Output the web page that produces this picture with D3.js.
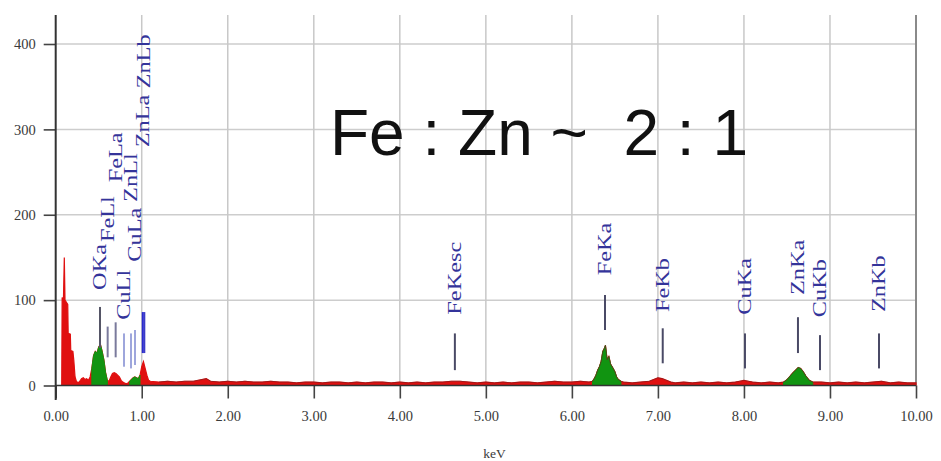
<!DOCTYPE html>
<html><head><meta charset="utf-8">
<script src="https://cdn.jsdelivr.net/npm/d3@7/dist/d3.min.js"></script>
<style>body{margin:0;background:#fff}</style>
</head><body>
<svg id="c" width="941" height="461"></svg>
<script>
// ---------- data ----------
const xTicks = [0,1,2,3,4,5,6,7,8,9,10];
const xTickLabels = ["0.00","1.00","2.00","3.00","4.00","5.00","6.00","7.00","8.00","9.00","10.00"];
const yTicks = [0,100,200,300,400];
const yTickLabels = ["0","100","200","300","400"];
const xTitle = "keV";
const annotation = "Fe : Zn ~  2 : 1";

// spectrum [keV, counts]
const spectrum = [
 [0.070,0],[0.075,103],[0.09,100],[0.100,150],[0.108,100],[0.14,95],[0.145,61],[0.17,60],[0.175,41],[0.20,40],[0.21,30],[0.225,10],[0.24,5],
 [0.26,3],[0.28,5],[0.30,8],[0.32,9],[0.34,7],[0.36,8],[0.38,6],[0.40,10],
 [0.42,20],[0.44,35],[0.46,40],[0.48,38],[0.50,45],[0.52,48],[0.54,40],[0.56,30],[0.58,15],[0.60,6],
 [0.62,5],[0.64,10],[0.66,14],[0.68,15],[0.70,14],[0.72,12],[0.74,10],[0.76,6],[0.78,4],[0.80,3],[0.82,2],[0.84,3],
 [0.86,5],[0.88,7],[0.90,9],[0.92,10],[0.94,9],[0.96,8],[0.98,12],
 [1.00,22],[1.02,28],[1.04,20],[1.06,12],[1.08,6],[1.10,5],
 [1.2,4],[1.3,5],[1.4,4],[1.5,5],[1.6,5],[1.7,7],[1.75,8],[1.8,5],[1.9,4],[2.0,5],
 [2.1,4],[2.2,5],[2.3,4],[2.4,4],[2.5,5],[2.6,4],[2.7,4],[2.8,3],[2.9,4],[3.0,4],
 [3.1,3],[3.2,4],[3.3,4],[3.4,3],[3.5,4],[3.6,3],[3.7,4],[3.8,4],[3.9,3],[4.0,4],
 [4.1,3],[4.2,4],[4.3,3],[4.4,4],[4.5,4],[4.6,5],[4.7,5],[4.8,4],[4.9,3],[5.0,4],
 [5.1,3],[5.2,4],[5.3,3],[5.4,4],[5.5,4],[5.6,3],[5.7,4],[5.8,5],[5.9,4],[6.0,4],
 [6.1,5],[6.2,4],
 [6.24,5],[6.26,8],[6.28,12],[6.30,18],[6.32,22],[6.34,28],[6.36,40],[6.38,44],[6.39,47],[6.41,30],[6.43,34],[6.45,25],[6.48,20],[6.50,16],[6.52,10],[6.54,7],[6.57,5],
 [6.6,4],[6.7,3],[6.8,4],[6.9,5],[6.95,7],[7.0,9],[7.05,8],[7.1,6],[7.15,4],[7.2,3],
 [7.3,4],[7.4,3],[7.5,4],[7.6,3],[7.7,4],[7.8,3],[7.9,4],[7.95,5],[8.0,6],[8.05,5],
 [8.1,4],[8.2,3],[8.3,4],[8.4,3],
 [8.46,4],[8.49,6],[8.52,9],[8.56,14],[8.60,18],[8.63,21],[8.66,20],[8.69,16],[8.72,11],[8.76,6],[8.80,4],
 [8.9,4],[9.0,3],[9.1,4],[9.2,3],[9.3,4],[9.4,3],[9.5,4],[9.6,5],[9.7,3],[9.8,4],[9.9,3],[10.0,3]
];

// regions of interest drawn in green [from keV, to keV]
const roiRanges = [[0.42,0.60],[0.86,0.98],[6.24,6.57],[8.46,8.80]];

// peak markers
const peakNames    = ["OKa","FeLl","FeLa","CuLl","ZnLl","CuLa","ZnLa","ZnLb","FeKesc","FeKa","FeKb","CuKa","ZnKa","CuKb","ZnKb"];
const peakEnergies = [0.515,0.604,0.697,0.794,0.875,0.922,1.012,1.030,4.64,6.385,7.056,8.012,8.628,8.884,9.57];
const markerLow    = [44,33,33,22,20,24,38,38,18,65,26,20,38,18,20];
const markerHigh   = [92,69,74,61,61,65,86,86,61,106,67,61,80,59,61];
const labelStart   = [112,168,238,77,215,145,279,348,83,129,86,83,106,80,86];

// ---------- drawing ----------
const svg = d3.select("#c");
const x = d3.scaleLinear().domain([0,10]).range([55.7,916]);
const y = d3.scaleLinear().domain([0,400]).range([385.5,44]);
const plotTop = 15;
const serif = "'Liberation Serif','Times New Roman',serif";

const markerColor = n => ({OKa:"#555566",FeLl:"#7a7a9c",FeLa:"#7a7a9c",CuLl:"#9ea6dc",ZnLl:"#9ea6dc",CuLa:"#9ea6dc",ZnLa:"#2a2ad0",ZnLb:"#3a3ac8"}[n] || "#4a4a66");

// grid
svg.append("g").selectAll("line").data(yTicks.filter(d=>d>0)).join("line")
  .attr("x1",x(0)).attr("x2",x(10)).attr("y1",d=>y(d)).attr("y2",d=>y(d))
  .attr("stroke","#cdcdcd").attr("stroke-width",1.5);
svg.append("g").selectAll("line").data(xTicks.filter(d=>d>0&&d<10)).join("line")
  .attr("x1",d=>x(d)).attr("x2",d=>x(d)).attr("y1",plotTop).attr("y2",y(0))
  .attr("stroke","#c8c8c8").attr("stroke-width",1.5);
svg.append("line").attr("x1",x(10)).attr("x2",x(10)).attr("y1",plotTop).attr("y2",y(0))
  .attr("stroke","#8a8a8a").attr("stroke-width",2);

// spectrum
const area = d3.area().x(d=>x(d[0])).y0(y(0)).y1(d=>y(d[1]));
const line = d3.line().x(d=>x(d[0])).y(d=>y(d[1]));
svg.append("path").datum(spectrum).attr("d",area).attr("fill","#e01010").attr("stroke","#e01010").attr("stroke-width",1.2);
roiRanges.forEach(r=>{
  const seg = spectrum.filter(d=>d[0]>=r[0]-1e-9 && d[0]<=r[1]+1e-9);
  svg.append("path").datum(seg).attr("d",area).attr("fill","#119411").attr("stroke","#119411").attr("stroke-width",1);
});
svg.append("path").datum(spectrum.filter(d=>d[0]>1.1)).attr("d",line).attr("fill","none")
  .attr("stroke","#6a2020").attr("stroke-width",0.7).attr("opacity",0.8);

// axes
const xAxis = d3.axisBottom(x).tickValues(xTicks).tickFormat((d,i)=>xTickLabels[i]).tickSize(13).tickPadding(12);
const gx = svg.append("g").attr("transform",`translate(0,${y(0)})`).call(xAxis);
gx.attr("font-size",null).attr("font-family",null);
gx.select(".domain").remove();
gx.selectAll(".tick line").attr("stroke","#444").attr("stroke-width",1.6);
gx.selectAll("text").style("font-family",serif).style("font-size","14.5px").attr("fill","#3a3a3a");
svg.append("line").attr("x1",x(0)).attr("x2",x(10)).attr("y1",y(0)).attr("y2",y(0)).attr("stroke","#333").attr("stroke-width",1.6);

const yAxis = d3.axisLeft(y).tickValues(yTicks).tickFormat((d,i)=>yTickLabels[i]).tickSize(12).tickPadding(8);
const gy = svg.append("g").attr("transform",`translate(${x(0)},0)`).call(yAxis);
gy.attr("font-size",null).attr("font-family",null);
gy.select(".domain").remove();
gy.selectAll(".tick line").attr("stroke","#444").attr("stroke-width",1.6);
gy.selectAll("text").style("font-family",serif).style("font-size","14.5px").attr("fill","#3a3a3a");
svg.append("line").attr("x1",x(0)).attr("x2",x(0)).attr("y1",plotTop).attr("y2",400).attr("stroke","#333").attr("stroke-width",2);

svg.append("text").attr("x",x(5.1)).attr("y",458).attr("text-anchor","middle")
  .style("font-family",serif).style("font-size","13.5px").attr("fill","#3a3a3a").text(xTitle);

// peak markers & labels
peakNames.forEach((n,i)=>{
  const px = x(peakEnergies[i]);
  svg.append("line").attr("x1",px).attr("x2",px).attr("y1",y(markerLow[i])).attr("y2",y(markerHigh[i]))
    .attr("stroke",markerColor(n)).attr("stroke-width",2);
  svg.append("text").attr("transform",`translate(${px+6},${y(labelStart[i])}) rotate(-90) scale(1.35,1)`)
    .style("font-family",serif).style("font-size","18px")
    .attr("fill","#34349a").text(n);
});

// annotation
svg.append("text").attr("x",330).attr("y",155).style("font-family","'Liberation Sans',Arial,sans-serif")
  .style("font-size","64px").attr("fill","#111").style("white-space","pre").text(annotation);
</script>
</body></html>
